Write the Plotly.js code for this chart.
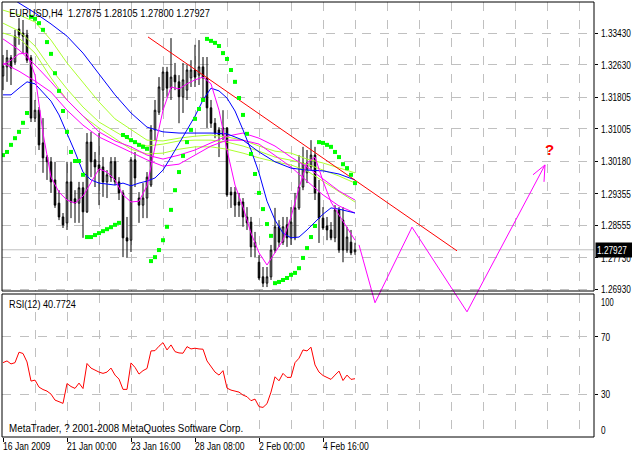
<!DOCTYPE html>
<html><head><meta charset="utf-8">
<script src="https://cdn.plot.ly/plotly-3.0.1.min.js"></script>
<style>html,body{margin:0;padding:0;background:#fff}#chart{width:632px;height:454px}</style>
</head><body><div id="chart"></div>
<script>
// ---- EURUSD H4 candles (bar 0 = 16 Jan 2009 08:00) ----
const openP = [1.3234,1.3257,1.3280,1.3269,1.3353,1.3343,1.3338,1.3280,1.3127,1.3147,
 1.3064,1.3028,1.3016,1.2970,1.2911,1.2876,1.2861,1.2965,1.2922,1.2911,
 1.2950,1.2889,1.3066,1.3021,1.3008,1.3003,1.2965,1.2977,1.3016,1.2965,
 1.2937,1.2823,1.2817,1.3021,1.2924,1.2906,1.2924,1.2957,1.3097,1.3142,
 1.3198,1.3244,1.3203,1.3236,1.3219,1.3181,1.3198,1.3229,1.3249,1.3236,
 1.3257,1.3229,1.3153,1.3114,1.3097,1.3084,1.3102,1.2939,1.2939,1.2914,
 1.2914,1.2876,1.2863,1.2800,1.2761,1.2724,1.2708,1.2724,1.2792,1.2851,
 1.2812,1.2856,1.2823,1.2823,1.2899,1.2952,1.2988,1.3003,1.3033,1.2937,
 1.2873,1.2853,1.2843,1.2823,1.2894,1.2868,1.2792,1.2812,1.27875];
const highP = [1.3287,1.3300,1.3287,1.3351,1.3381,1.3376,1.3351,1.3287,1.3173,1.3155,
 1.3127,1.3033,1.3028,1.3016,1.2944,1.2886,1.3016,1.3016,1.2944,1.2965,
 1.2965,1.3089,1.3092,1.3041,1.3089,1.3028,1.2995,1.3028,1.3028,1.2977,
 1.2944,1.2876,1.3028,1.3041,1.2939,1.2962,1.2990,1.3109,1.3173,1.3231,
 1.3257,1.3257,1.3330,1.3267,1.3236,1.3267,1.3262,1.3274,1.3313,1.3325,
 1.3282,1.3282,1.3173,1.3127,1.3104,1.3147,1.3104,1.2952,1.2952,1.2937,
 1.2924,1.2901,1.2876,1.2838,1.2779,1.2749,1.2749,1.2805,1.2899,1.2868,
 1.2876,1.2876,1.2901,1.2937,1.3033,1.3054,1.3046,1.3071,1.3054,1.2970,
 1.2901,1.2876,1.2863,1.2906,1.2901,1.2901,1.2851,1.2843,1.28105];
const lowP = [1.3198,1.3219,1.3211,1.3262,1.3313,1.3292,1.3267,1.3117,1.3117,1.3046,
 1.2988,1.2970,1.2937,1.2899,1.2868,1.2848,1.2843,1.2873,1.2861,1.2861,
 1.2823,1.2886,1.2977,1.2952,1.2906,1.2927,1.2924,1.2965,1.2957,1.2919,
 1.2774,1.2772,1.2787,1.2952,1.2861,1.2873,1.2873,1.2952,1.3071,1.3135,
 1.3147,1.3181,1.3173,1.3198,1.3114,1.3140,1.3173,1.3206,1.3206,1.3211,
 1.3173,1.3102,1.3102,1.3076,1.3028,1.3071,1.2927,1.2899,1.2876,1.2876,
 1.2851,1.2843,1.2774,1.2774,1.2716,1.2698,1.2698,1.2716,1.2785,1.2800,
 1.2805,1.2800,1.2805,1.2817,1.2894,1.2944,1.2962,1.2995,1.2919,1.2810,
 1.2843,1.2817,1.2817,1.2812,1.2785,1.2761,1.2785,1.2779,1.27800];
const closeP = [1.3259,1.3280,1.3254,1.3335,1.3338,1.3335,1.3274,1.3127,1.3147,1.3059,
 1.3026,1.3016,1.2965,1.2906,1.2876,1.2856,1.2965,1.2914,1.2911,1.2950,
 1.2889,1.3066,1.3016,1.3003,1.2995,1.2965,1.2983,1.3016,1.2965,1.2937,
 1.2823,1.2815,1.3021,1.2975,1.2906,1.2924,1.2977,1.3097,1.3147,1.3206,
 1.3244,1.3203,1.3231,1.3219,1.3181,1.3224,1.3249,1.3249,1.3231,1.3257,
 1.3229,1.3153,1.3114,1.3089,1.3084,1.3102,1.2932,1.2932,1.2906,1.2906,
 1.2876,1.2861,1.2800,1.2812,1.2721,1.2708,1.2724,1.2792,1.2851,1.2812,
 1.2851,1.2823,1.2863,1.2899,1.2952,1.3013,1.3013,1.3033,1.2937,1.2873,
 1.2848,1.2843,1.2823,1.2894,1.2792,1.2792,1.2825,1.2785,1.27927];

// ---- Parabolic SAR (one per bar) ----
const sarP = [1.3033,1.3041,1.3059,1.3076,1.3092,1.3115,1.3140,
 1.3384,1.3379,1.3368,1.3351,1.3320,1.3290,1.3241,1.3196,1.3145,1.3092,1.3041,1.3018,1.3018,1.2983,
 1.2825,1.2825,1.2830,1.2835,1.2840,1.2845,1.2850,1.2856,1.2861,
 1.3084,1.3079,1.3071,1.3066,1.3059,1.3054,1.3049,
 1.2764,1.2774,1.2792,1.2817,1.2851,1.2894,1.2944,1.2990,1.3031,1.3066,1.3097,1.3125,1.3150,1.3173,
 1.3328,1.3323,1.3318,1.3310,1.3292,1.3277,1.3249,1.3219,1.3178,1.3135,1.3087,1.3036,1.2985,1.2937,1.2896,1.2858,1.2828,
 1.2708,1.2711,1.2716,1.2721,1.2729,1.2734,1.2746,1.2772,1.2797,1.2825,1.2853,
 1.3066,1.3064,1.3059,1.3054,1.3041,1.3028,1.3010,1.3000,1.2983,1.2962];

// ---- RSI(12) ----
const rsiVals = [52.0,53.2,51.1,52.0,59.3,58.4,52.5,39.1,39.8,34.9,
 33.2,32.1,30.0,25.8,24.7,23.5,37.4,35.3,34.0,37.7,
 33.9,51.4,48.2,46.5,45.4,44.5,45.4,48.2,43.3,40.5,
 33.3,33.3,51.8,48.7,44.0,46.4,47.9,60.2,60.4,63.5,
 66.0,60.9,64.4,59.7,58.8,58.6,63.2,61.6,62.1,61.6,
 61.4,53.2,48.9,45.4,43.3,46.4,34.2,32.8,32.1,31.4,
 29.3,28.2,25.4,26.5,21.2,20.7,23.3,31.4,42.1,39.3,
 44.5,41.7,41.7,52.0,55.1,60.9,60.2,62.8,50.4,45.4,
 43.0,41.6,40.3,43.3,46.1,39.5,43.3,40.3,40.7724];

// ---- moving-average style lines, read every 4 bars ----
const blueSlow = [1.3447,1.3419,1.3394,1.3366,1.3335,1.3292,1.3239,1.3186,1.3140,1.3104,1.3092,1.3089,1.3089,1.3089,1.3087,1.3071,1.3041,1.3016,1.3000,1.2995,1.2993,1.2985,1.2970];
const limeUpper = [1.3401,1.3389,1.3371,1.3325,1.3267,1.3216,1.3168,1.3125,1.3097,1.3071,1.3069,1.3076,1.3081,1.3084,1.3079,1.3071,1.3056,1.3043,1.3038,1.3023,1.3013,1.3000,1.2988];
const limeMid = [1.3368,1.3348,1.3310,1.3252,1.3201,1.3155,1.3117,1.3092,1.3069,1.3056,1.3061,1.3069,1.3071,1.3071,1.3066,1.3056,1.3043,1.3028,1.3020,1.3010,1.2995,1.2980,1.2962];
const limeLower = [1.3343,1.3330,1.3292,1.3229,1.3173,1.3132,1.3102,1.3074,1.3048,1.3036,1.3038,1.3048,1.3054,1.3054,1.3048,1.3038,1.3026,1.3016,1.3008,1.2993,1.2967,1.2942,1.2914];
const magUpper = [1.3328,1.3300,1.3262,1.3219,1.3173,1.3132,1.3092,1.3069,1.3054,1.3033,1.3023,1.3033,1.3046,1.3064,1.3081,1.3089,1.3076,1.3056,1.3028,1.3003,1.2972,1.2942,1.2919];
const magLower = [1.3267,1.3246,1.3221,1.3193,1.3147,1.3109,1.3079,1.3059,1.3041,1.3021,1.3005,1.3010,1.3033,1.3056,1.3071,1.3071,1.3061,1.3033,1.3003,1.2967,1.2932,1.2904,1.2886];
// ---- faster lines, read every 2 bars ----
const blueFast = [1.3186,1.3186,1.3203,1.3219,1.3214,1.3193,1.3170,1.3135,1.3089,1.3041,
 1.2990,1.2970,1.2962,1.2960,1.2957,1.2962,1.2955,1.2962,1.2967,1.2975,
 1.2995,1.3028,1.3061,1.3097,1.3132,1.3173,1.3203,1.3196,1.3178,1.3145,
 1.3097,1.3046,1.2988,1.2916,1.2868,1.2835,1.2823,1.2825,1.2843,1.2863,
 1.2883,1.2899,1.2896,1.2891,1.2886];
const magFast = [1.3262,1.3274,1.3290,1.3292,1.3236,1.3089,1.2977,1.2939,1.2919,1.2911,
 1.2929,1.2965,1.2998,1.2990,1.2970,1.2932,1.2914,1.2916,1.2955,1.3054,
 1.3147,1.3206,1.3201,1.3214,1.3224,1.3231,1.3214,1.3147,1.3046,1.2957,
 1.2901,1.2835,1.2785,1.2754,1.2785,1.2817,1.2876,1.2950,1.3013,1.3028,
 1.2967,1.2914,1.2881,1.2848,1.2817];

// ---- hand-drawn objects ----
const trendIdx = [36.25, 113.5];
const trendPrice = [1.3333, 1.2790];
const zigIdx = [89, 93, 102.25, 116, 135.5];
const zigPrice = [1.2805, 1.2658, 1.2850, 1.2635, 1.3008];
const arrowIdx = [132.5, 135.5, 135.25];
const arrowPrice = [1.2983, 1.3008, 1.2965];
const qIdx = [136.5];
const qPrice = [1.3046];

// ---- axes ----
const priceTicks = [1.3343,1.3263,1.31805,1.31005,1.3018,1.29355,1.28555,1.2773,1.2693];
const priceLabels = ["1.33430","1.32630","1.31805","1.31005","1.30180","1.29355","1.28555","1.27730","1.26930"];
const dateTickIdx = [0,16,32,48,64,80];
const dateLabels = ["16 Jan 2009","21 Jan 00:00","23 Jan 16:00","28 Jan 08:00","2 Feb 00:00","4 Feb 16:00"];
const rsiGrid = [70,30];
const rsiEdge = [100,0];

const nBars = closeP.length;
const barIdx = Array.from({length:nBars},(_,k)=>k);
const idx4 = Array.from({length:blueSlow.length},(_,k)=>k*4);
const idx2 = Array.from({length:blueFast.length},(_,k)=>k*2);

const FONT = '"Liberation Sans",Arial,sans-serif';
const XR = [-0.25, 147.75];
const MAIN_DOM = [0.3356, 1];
const RSI_DOM = [0, 0.3287];
const MAIN_RANGE = [1.26880, 1.34217];
const FULL_RANGE = [1.23172, 1.34217];

function line(x, y, color) {
  return {type:'scatter', mode:'lines', x:x, y:y, xaxis:'x', yaxis:'y',
    line:{color:color, width:1}, hoverinfo:'skip'};
}

const traces = [
  {type:'candlestick', x:barIdx, open:openP, high:highP, low:lowP, close:closeP,
   xaxis:'x', yaxis:'y', whiskerwidth:0,
   increasing:{line:{color:'#000000', width:1}, fillcolor:'#ffffff'},
   decreasing:{line:{color:'#000000', width:1}, fillcolor:'#000000'},
   hoverinfo:'skip'},
  line(idx4, limeUpper, '#adff2f'),
  line(idx4, limeMid, '#adff2f'),
  line(idx4, limeLower, '#adff2f'),
  line(idx4, magUpper, '#ff00ff'),
  line(idx4, magLower, '#ff00ff'),
  line(idx4, blueSlow, '#0000ff'),
  line(idx2, blueFast, '#0000ff'),
  line(idx2, magFast, '#ff00ff'),
  line(trendIdx, trendPrice, '#ff0000'),
  {type:'scatter', mode:'markers', x:barIdx, y:sarP, xaxis:'x', yaxis:'y',
   marker:{color:'#00ff00', size:4, symbol:'square'}, hoverinfo:'skip'},
  {type:'scatter', mode:'lines', x:barIdx, y:rsiVals, xaxis:'x', yaxis:'y2',
   line:{color:'#ff0000', width:1}, hoverinfo:'skip'},
  {type:'scatter', mode:'lines', x:zigIdx, y:zigPrice, xaxis:'x2', yaxis:'y3',
   line:{color:'#ff00ff', width:1}, hoverinfo:'skip'},
  {type:'scatter', mode:'lines', x:arrowIdx, y:arrowPrice, xaxis:'x2', yaxis:'y3',
   line:{color:'#ff00ff', width:1}, hoverinfo:'skip'}
];

const gridStyle = {showgrid:true, gridcolor:'#c0c0c0', gridwidth:1, griddash:'dash'};
const txtFont = {family:FONT, size:11, color:'#000000'};

// annotations + horizontal squeeze factor (imitates MetaTrader's narrow bitmap font)
const annotations = [];
const annScale = [];
function addAnn(a, s) { annotations.push(Object.assign({showarrow:false}, a)); annScale.push(s); }

const last = nBars - 1;
priceTicks.forEach((v,k)=>{
  addAnn({xref:'paper', yref:'y', x:1, y:v, xanchor:'left', yanchor:'middle', xshift:5,
    text:priceLabels[k], font:txtFont}, 0.75);
});
rsiGrid.forEach(v=>{
  addAnn({xref:'paper', yref:'y2', x:1, y:v, xanchor:'left', yanchor:'middle', xshift:5,
    text:String(v), font:txtFont}, 0.75);
});
addAnn({xref:'paper', yref:'y2', x:1, y:rsiEdge[0], xanchor:'left', yanchor:'middle', xshift:5, yshift:-8,
  text:String(rsiEdge[0]), font:{family:FONT, size:10.5, color:'#000'}}, 0.72);
addAnn({xref:'paper', yref:'y2', x:1, y:rsiEdge[1], xanchor:'left', yanchor:'middle', xshift:5, yshift:7,
  text:String(rsiEdge[1]), font:txtFont}, 0.75);
addAnn({xref:'paper', yref:'y', x:1, y:closeP[last], xanchor:'left', yanchor:'middle', xshift:1,
  text:closeP[last].toFixed(5), bgcolor:'#000000', borderpad:1,
  font:{family:FONT, size:11, color:'#ffffff'}}, 0.75);
addAnn({xref:'paper', yref:'paper', x:0.0085, y:0.975, xanchor:'left', yanchor:'middle',
  text:'EURUSD,H4\u00a0\u00a0' + [openP[last],highP[last],lowP[last],closeP[last]].map(v=>v.toFixed(5)).join(' '),
  font:txtFont}, 0.845);
addAnn({xref:'paper', yref:'paper', x:0.0085, y:0.3057, xanchor:'left', yanchor:'middle',
  text:'RSI(12) ' + rsiVals[last].toFixed(4), font:txtFont}, 0.83);
addAnn({xref:'paper', yref:'paper', x:0.0085, y:0.0207, xanchor:'left', yanchor:'middle',
  text:'MetaTrader, ? 2001-2008 MetaQuotes Software Corp.', font:txtFont}, 0.89);
dateTickIdx.forEach((v,k)=>{
  addAnn({xref:'x', yref:'paper', x:v, y:-0.0207, xanchor:'left', yanchor:'middle', xshift:-2,
    text:dateLabels[k], font:txtFont}, 0.78);
});
addAnn({xref:'x2', yref:'y3', x:qIdx[0], y:qPrice[0], xanchor:'center', yanchor:'middle',
  text:'<b>?</b>', font:{family:FONT, size:15, color:'#ff0000'}}, 1);

const shapes = [
  {type:'line', xref:'paper', yref:'y', x0:0, x1:1, y0:closeP[last], y1:closeP[last],
   line:{color:'#c0c0c0', width:1}, layer:'below'},
  {type:'rect', xref:'paper', yref:'paper', x0:0, x1:1, y0:MAIN_DOM[0], y1:MAIN_DOM[1],
   line:{color:'#000000', width:1}},
  {type:'rect', xref:'paper', yref:'paper', x0:0, x1:1, y0:RSI_DOM[0], y1:RSI_DOM[1],
   line:{color:'#000000', width:1}}
];

const layout = {
  width:632, height:454,
  margin:{l:2, r:38, t:2, b:17, pad:0},
  paper_bgcolor:'#ffffff', plot_bgcolor:'rgba(0,0,0,0)',
  showlegend:false, boxgap:0.45,
  xaxis:Object.assign({domain:[0,1], range:XR, anchor:'y2', tickmode:'array', tickvals:dateTickIdx,
    showticklabels:false, ticks:'outside', ticklen:4, tickcolor:'#000', zeroline:false, showline:false,
    rangeslider:{visible:false}, fixedrange:true,
    minor:{tick0:0, dtick:8, showgrid:true, gridcolor:'#c0c0c0', gridwidth:1, griddash:'dash', ticks:''}}, gridStyle),
  yaxis:Object.assign({domain:MAIN_DOM, range:MAIN_RANGE, anchor:'x', side:'right', tickmode:'array',
    tickvals:priceTicks, showticklabels:false, ticks:'outside', ticklen:3, tickcolor:'#000',
    zeroline:false, showline:false, fixedrange:true}, gridStyle),
  yaxis2:Object.assign({domain:RSI_DOM, range:[0,100], anchor:'x', side:'right', tickmode:'array',
    tickvals:rsiGrid, showticklabels:false, ticks:'outside', ticklen:3, tickcolor:'#000',
    zeroline:false, showline:false, fixedrange:true}, gridStyle),
  xaxis2:{domain:[0,1], range:XR, anchor:'y3', visible:false, showgrid:false, zeroline:false, fixedrange:true},
  yaxis3:{domain:[0,1], range:FULL_RANGE, anchor:'x2', visible:false, showgrid:false, zeroline:false, fixedrange:true},
  annotations:annotations,
  shapes:shapes
};

Plotly.newPlot('chart', traces, layout, {staticPlot:true, displayModeBar:false}).then(gd=>{
  gd.querySelectorAll('g.annotation').forEach(g=>{
    const k = +g.getAttribute('data-index');
    const t = g.querySelector('text.annotation-text');
    const s = annScale[k];
    if (t && s && s !== 1) {
      t.style.transformBox = 'fill-box';
      t.style.transformOrigin = '0% 50%';
      t.style.transform = 'scaleX(' + s + ')';
    }
  });
});
</script>
</body></html>
